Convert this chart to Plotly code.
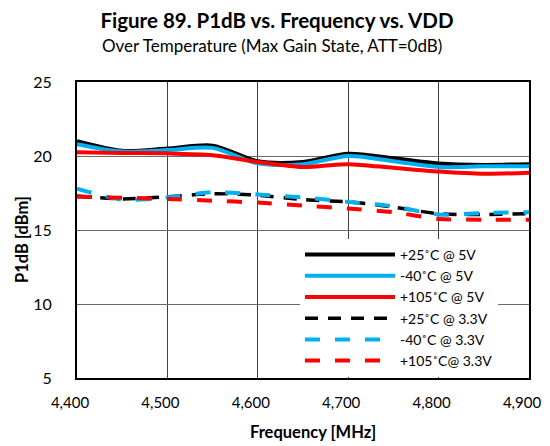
import plotly.graph_objects as go

freq = [4400, 4450, 4500, 4550, 4600, 4650, 4700, 4750, 4800, 4850, 4900]
p25_5v = [21.0, 20.35, 20.5, 20.7, 19.65, 19.6, 20.15, 19.85, 19.5, 19.4, 19.45]
m40_5v = [20.8, 20.3, 20.4, 20.55, 19.5, 19.45, 20.0, 19.65, 19.25, 19.3, 19.3]
p105_5v = [20.25, 20.2, 20.18, 20.05, 19.6, 19.25, 19.45, 19.2, 18.95, 18.8, 18.87]
p25_33v = [17.3, 17.1, 17.25, 17.45, 17.35, 17.05, 16.9, 16.55, 16.1, 16.05, 16.1]
m40_33v = [17.8, 17.05, 17.2, 17.55, 17.4, 17.2, 16.9, 16.6, 16.05, 16.15, 16.2]
p105_33v = [17.25, 17.18, 17.1, 16.98, 16.85, 16.65, 16.45, 16.2, 15.75, 15.7, 15.7]

names = ["+25˚C @ 5V", "-40˚C @ 5V", "+105˚C @ 5V",
         "+25˚C @ 3.3V", "-40˚C @ 3.3V", "+105˚C@ 3.3V"]
series = [p25_5v, m40_5v, p105_5v, p25_33v, m40_33v, p105_33v]
colors = ["#000000", "#00B0F0", "#FF0000", "#000000", "#00B0F0", "#FF0000"]
dashes = ["solid", "solid", "solid", "13px,10px", "15px,15px", "15px,15px"]
widths = [4, 4, 4, 3.5, 4, 4]

FONT = "Lato"
OFF = 8  # page body margin
W, H = 550 - 2 * OFF, 446 - OFF
L, T = 77 - OFF, 82 - OFF
R = W - (529 - OFF)
B = H - (378 - OFF)
PW, PH = W - L - R, H - T - B


def px_x(p):
    return (p - OFF - L) / PW


def px_y(p):
    return (H - B - (p - OFF)) / PH


fig = go.Figure()
for n, s, c, d, w in zip(names, series, colors, dashes, widths):
    fig.add_trace(go.Scatter(x=freq, y=s, name=n, mode="lines",
                             line=dict(color=c, dash=d, width=w, shape="spline", smoothing=0.8)))

fig.update_layout(
    width=W, height=H,
    margin=dict(l=L, r=R, t=T, b=B, pad=0),
    paper_bgcolor="white", plot_bgcolor="white",
    font=dict(family=FONT, color="#000000"),
    title=dict(text="<b>Figure 89. P1dB vs. Frequency vs. VDD</b>",
               xref="container", x=(277 - OFF) / W, xanchor="center",
               yref="container", y=1 - (21 - OFF) / H, yanchor="middle",
               font=dict(size=20.5, family=FONT)),
    annotations=[
        dict(text="Over Temperature (Max Gain State, ATT=0dB)",
             xref="paper", x=px_x(272), xanchor="center",
             yref="paper", y=px_y(45), yanchor="middle",
             showarrow=False, font=dict(size=17, family=FONT)),
        dict(text="<b>Frequency [MHz]</b>",
             xref="paper", x=px_x(313), xanchor="center",
             yref="paper", y=px_y(432), yanchor="middle",
             showarrow=False, font=dict(size=16.5, family=FONT)),
        dict(text="<b>P1dB [dBm]</b>", textangle=-90,
             xref="paper", x=px_x(22), xanchor="center",
             yref="paper", y=px_y(240), yanchor="middle",
             showarrow=False, font=dict(size=16.5, family=FONT)),
    ],
    showlegend=True,
    legend=dict(x=px_x(300), xanchor="left", y=px_y(377), yanchor="bottom",
                bgcolor="white", borderwidth=0, itemwidth=90,
                font=dict(size=14, family=FONT), tracegroupgap=0),
)
fig.update_xaxes(range=[4400, 4900], dtick=100, tickformat=",",
                 showgrid=True, gridcolor="#404040", gridwidth=1,
                 showline=True, linecolor="black", linewidth=2, mirror=True,
                 ticks="", ticklabelstandoff=10, automargin=False,
                 ticklabeloverflow="allow", ticklabelshift=-7,
                 tickfont=dict(size=15, family=FONT),
                 zeroline=False)
fig.update_yaxes(range=[5, 25], dtick=5,
                 showgrid=True, gridcolor="#6b6b6b", gridwidth=1,
                 showline=True, linecolor="black", linewidth=2, mirror=True,
                 ticks="", ticklabelstandoff=20, automargin=False,
                 tickfont=dict(size=16, family=FONT),
                 zeroline=False)

fig.write_html("out.html")
